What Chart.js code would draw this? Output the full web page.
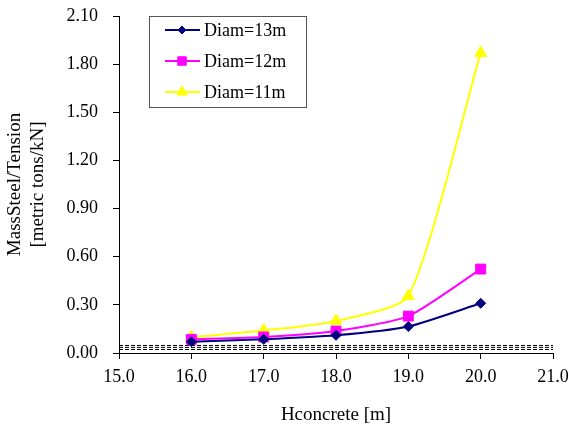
<!DOCTYPE html>
<html>
<head>
<meta charset="utf-8">
<script src="https://cdn.jsdelivr.net/npm/chart.js@4/dist/chart.umd.min.js"></script>
<style>
  body { margin: 0; background: #fff; }
</style>
</head>
<body>
<canvas id="chart1" width="569" height="428"></canvas>
<script>
var hConcrete = [16, 17, 18, 19, 20];
var diam13 = [0.07, 0.085, 0.11, 0.165, 0.31];
var diam12 = [0.085, 0.10, 0.137, 0.23, 0.523];
var diam11 = [0.098, 0.14, 0.20, 0.355, 1.87];
var seriesNames = ["Diam=13m", "Diam=12m", "Diam=11m"];
var dashLevels = [0.022, 0.035, 0.047];
var dashRange = [15, 21];

var SERIF = "'Liberation Serif', 'Times New Roman', serif";

function toPoints(ys) {
  return hConcrete.map(function (x, i) { return { x: x, y: ys[i] }; });
}

function series(label, ys, color, style, radius) {
  return {
    label: label,
    data: toPoints(ys),
    borderColor: color,
    backgroundColor: color,
    borderWidth: 2,
    pointStyle: style,
    pointRadius: radius,
    pointBorderWidth: 1,
    pointBackgroundColor: color,
    pointBorderColor: color,
    tension: 0.2
  };
}

var datasets = [];
dashLevels.forEach(function (v) {
  datasets.push({
    label: "",
    data: dashRange.map(function (x) { return { x: x, y: v }; }),
    borderColor: "#000",
    borderWidth: 1,
    borderDash: [4, 2],
    pointRadius: 0,
    tension: 0,
    isDash: true
  });
});
datasets.push(series(seriesNames[0], diam13, "#000080", "rectRot", 5));
datasets.push(series(seriesNames[1], diam12, "#ff00ff", "rect", 7));
datasets.push(series(seriesNames[2], diam11, "#ffff00", "triangle", 7));

// legend box drawn inside the plot, like the original
var boxLegend = {
  id: "boxLegend",
  afterDraw: function (chart) {
    var ctx = chart.ctx;
    var left = 149, top = 16, right = 306, bottom = 107;
    ctx.save();
    ctx.fillStyle = "#fff";
    ctx.fillRect(left, top, right - left, bottom - top);
    ctx.strokeStyle = "#555";
    ctx.lineWidth = 1;
    ctx.strokeRect(left + 0.5, top + 0.5, right - left, bottom - top);
    var rows = [30, 61, 92];
    var items = chart.data.datasets.filter(function (d) { return !d.isDash; });
    items.forEach(function (ds, i) {
      var y = rows[i];
      ctx.strokeStyle = ds.borderColor;
      ctx.lineWidth = 2;
      ctx.beginPath();
      ctx.moveTo(165, y);
      ctx.lineTo(200, y);
      ctx.stroke();
      ctx.fillStyle = ds.backgroundColor;
      ctx.strokeStyle = ds.borderColor;
      ctx.lineWidth = 1;
      Chart.helpers.drawPoint(ctx, { pointStyle: ds.pointStyle, radius: ds.pointRadius - 1, borderWidth: 1 }, 182, y);
      ctx.fillStyle = "#000";
      ctx.font = "18px " + SERIF;
      ctx.textBaseline = "middle";
      ctx.textAlign = "left";
      ctx.fillText(ds.label, 204, y + 1);
    });
    ctx.restore();
  }
};

var CHART1 = document.getElementById("chart1");
var massChart = new Chart(CHART1, {
  type: "line",
  data: { datasets: datasets },
  plugins: [boxLegend],
  options: {
    responsive: false,
    animation: false,
    layout: { padding: { top: 16, right: 16, bottom: 0, left: 0 } },
    plugins: {
      legend: { display: false },
      tooltip: { enabled: false }
    },
    scales: {
      x: {
        type: "linear",
        min: 15,
        max: 21,
        afterFit: function (scale) {
          scale.height = 75;
          scale.paddingLeft = 0;
          scale.paddingRight = 0;
        },
        ticks: {
          stepSize: 1,
          color: "#000",
          padding: 7,
          font: { family: SERIF, size: 18 },
          callback: function (v) { return v.toFixed(1); }
        },
        grid: { drawOnChartArea: false, color: "#000", tickLength: 6 },
        border: { color: "#000", width: 1 },
        title: {
          display: true,
          text: "Hconcrete [m]",
          color: "#000",
          font: { family: SERIF, size: 19, lineHeight: 1.2 },
          padding: { top: 0, bottom: 2 }
        }
      },
      y: {
        min: 0,
        max: 2.1,
        afterFit: function (scale) {
          scale.width = 119;
          scale.paddingTop = 0;
          scale.paddingBottom = 0;
        },
        ticks: {
          stepSize: 0.3,
          color: "#000",
          padding: 15,
          font: { family: SERIF, size: 18 },
          callback: function (v) { return v.toFixed(2); }
        },
        grid: { drawOnChartArea: false, color: "#000", tickLength: 6 },
        border: { color: "#000", width: 1 },
        title: {
          display: true,
          text: ["MassSteel/Tension", "[metric tons/kN]"],
          color: "#000",
          font: { family: SERIF, size: 19, lineHeight: 1.21 },
          padding: { top: 4, bottom: 0 }
        }
      }
    }
  }
});
</script>
</body>
</html>
